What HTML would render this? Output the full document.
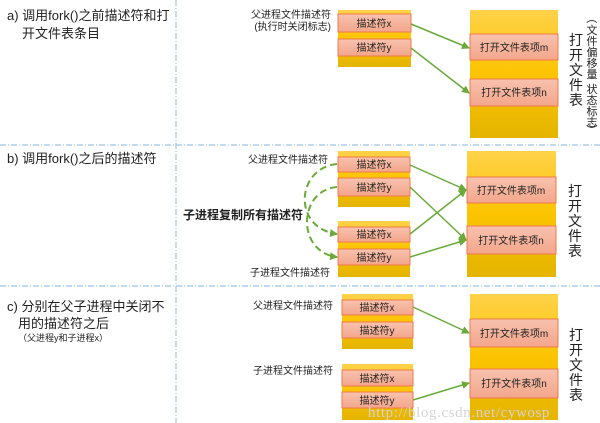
<!DOCTYPE html>
<html><head><meta charset="utf-8"><style>
html,body{margin:0;padding:0;background:#fff;}
svg{display:block;}
text{font-family:"Liberation Sans","Noto Sans CJK SC",sans-serif;fill:#222;}
</style></head><body>
<svg width="600" height="423" viewBox="0 0 600 423" xmlns="http://www.w3.org/2000/svg">
<defs>
<linearGradient id="yg" x1="0" y1="0" x2="0" y2="1">
<stop offset="0" stop-color="#ffd24a"/><stop offset="0.5" stop-color="#fcc400"/><stop offset="1" stop-color="#e4b400"/>
</linearGradient>
<linearGradient id="og" x1="0" y1="0" x2="0" y2="1">
<stop offset="0" stop-color="#f8c2ae"/><stop offset="1" stop-color="#f3a68c"/>
</linearGradient>
<marker id="ah" markerWidth="8" markerHeight="8" refX="7" refY="4" orient="auto" markerUnits="userSpaceOnUse">
<path d="M0,0 L8,4 L0,8 Z" fill="#6aaa3a"/>
</marker>
</defs>
<g stroke="#9cc3e6" stroke-width="1.2" stroke-dasharray="6,2,1,2" fill="none">
<line x1="176" y1="0" x2="176" y2="423"/>
<line x1="0" y1="145" x2="600" y2="145"/>
<line x1="0" y1="286" x2="600" y2="286"/>
</g>
<g font-size="13">
<text x="7" y="20">a) 调用fork()之前描述符和打</text>
<text x="22" y="38">开文件表条目</text>
<text x="7" y="163">b) 调用fork()之后的描述符</text>
<text x="7" y="311">c) 分别在父子进程中关闭不</text>
<text x="18" y="328">用的描述符之后</text>
<text x="18" y="341" font-size="9">（父进程y和子进程x）</text>
</g>
<g font-size="10" text-anchor="end">
<text x="331" y="18">父进程文件描述符</text>
<text x="331" y="30">(执行时关闭标志)</text>
<text x="328" y="163">父进程文件描述符</text>
<text x="330" y="276">子进程文件描述符</text>
<text x="333" y="309">父进程文件描述符</text>
<text x="333" y="374">子进程文件描述符</text>
</g>
<text x="183" y="219" font-size="12" font-weight="bold">子进程复制所有描述符</text>
<!-- panel a -->
<rect x="338" y="10" width="73" height="57" fill="url(#yg)"/>
<rect x="338" y="14" width="73" height="18" fill="url(#og)" stroke="#ee7a4a"/>
<rect x="338" y="39" width="73" height="17" fill="url(#og)" stroke="#ee7a4a"/>
<rect x="470" y="10" width="88" height="128" fill="url(#yg)"/>
<rect x="470" y="34" width="88" height="26" fill="url(#og)" stroke="#ee7a4a"/>
<rect x="470" y="79" width="88" height="27" fill="url(#og)" stroke="#ee7a4a"/>
<!-- panel b -->
<rect x="338" y="151" width="72" height="56" fill="url(#yg)"/>
<rect x="338" y="157" width="72" height="15" fill="url(#og)" stroke="#ee7a4a"/>
<rect x="338" y="178" width="72" height="18" fill="url(#og)" stroke="#ee7a4a"/>
<rect x="338" y="221" width="72" height="56" fill="url(#yg)"/>
<rect x="338" y="227" width="72" height="15" fill="url(#og)" stroke="#ee7a4a"/>
<rect x="338" y="249" width="72" height="16" fill="url(#og)" stroke="#ee7a4a"/>
<rect x="467" y="151" width="89" height="126" fill="url(#yg)"/>
<rect x="467" y="177" width="89" height="26" fill="url(#og)" stroke="#ee7a4a"/>
<rect x="467" y="226" width="89" height="28" fill="url(#og)" stroke="#ee7a4a"/>
<!-- panel c -->
<rect x="342" y="294" width="71" height="55" fill="url(#yg)"/>
<rect x="342" y="300" width="71" height="15" fill="url(#og)" stroke="#ee7a4a"/>
<rect x="342" y="322" width="71" height="16" fill="url(#og)" stroke="#ee7a4a"/>
<rect x="342" y="364" width="71" height="56" fill="url(#yg)"/>
<rect x="342" y="370" width="71" height="16" fill="url(#og)" stroke="#ee7a4a"/>
<rect x="342" y="392" width="71" height="16" fill="url(#og)" stroke="#ee7a4a"/>
<rect x="470" y="294" width="88" height="126" fill="url(#yg)"/>
<rect x="470" y="319" width="88" height="28" fill="url(#og)" stroke="#ee7a4a"/>
<rect x="470" y="369" width="88" height="29" fill="url(#og)" stroke="#ee7a4a"/>
<g font-size="10" text-anchor="middle">
<text x="374" y="27">描述符x</text>
<text x="374" y="51">描述符y</text>
<text x="514" y="51">打开文件表项m</text>
<text x="514" y="96">打开文件表项n</text>
<text x="374" y="168">描述符x</text>
<text x="374" y="191">描述符y</text>
<text x="374" y="238">描述符x</text>
<text x="374" y="261">描述符y</text>
<text x="511" y="194">打开文件表项m</text>
<text x="511" y="244">打开文件表项n</text>
<text x="377" y="311">描述符x</text>
<text x="377" y="334">描述符y</text>
<text x="377" y="382">描述符x</text>
<text x="377" y="404">描述符y</text>
<text x="514" y="337">打开文件表项m</text>
<text x="514" y="387">打开文件表项n</text>
</g>
<g font-size="14" text-anchor="middle">
<text x="576" y="45">打</text><text x="576" y="60">开</text><text x="576" y="75">文</text><text x="576" y="90">件</text><text x="576" y="105">表</text>
<text x="575" y="196">打</text><text x="575" y="211">开</text><text x="575" y="226">文</text><text x="575" y="241">件</text><text x="575" y="256">表</text>
<text x="576" y="340">打</text><text x="576" y="355">开</text><text x="576" y="370">文</text><text x="576" y="385">件</text><text x="576" y="400">表</text>
</g>
<g font-size="11" text-anchor="middle">
<text x="592" y="22" transform="rotate(90 592 18)">（</text>
<text x="592" y="34">文</text><text x="592" y="45">件</text><text x="592" y="56">偏</text><text x="592" y="67">移</text><text x="592" y="78">量</text>
<text x="592" y="93">状</text><text x="592" y="104">态</text><text x="592" y="115">标</text><text x="592" y="126">志</text>
<text x="592" y="134" transform="rotate(90 592 130)">）</text>
</g>
<g stroke="#6aaa3a" stroke-width="1.5" fill="none" marker-end="url(#ah)">
<line x1="411" y1="24" x2="469" y2="48"/>
<line x1="411" y1="48" x2="469" y2="93"/>
<line x1="410" y1="165" x2="466" y2="190"/>
<line x1="410" y1="187" x2="466" y2="240"/>
<line x1="410" y1="234" x2="466" y2="190"/>
<line x1="410" y1="257" x2="466" y2="240"/>
<line x1="413" y1="307" x2="469" y2="333"/>
<line x1="413" y1="400" x2="469" y2="383"/>
</g>
<g stroke="#6aaa3a" stroke-width="2" fill="none" stroke-dasharray="7,4" marker-end="url(#ah)">
<path d="M337,164 C296,168 292,228 337,234"/>
<path d="M337,187 C298,190 296,252 337,257"/>
</g>
<text x="368" y="417" font-size="15" letter-spacing="0.6" style="fill:#d4d4d4;font-family:'Liberation Serif',serif">http://blog.csdn.net/cywosp</text>
</svg>
</body></html>
